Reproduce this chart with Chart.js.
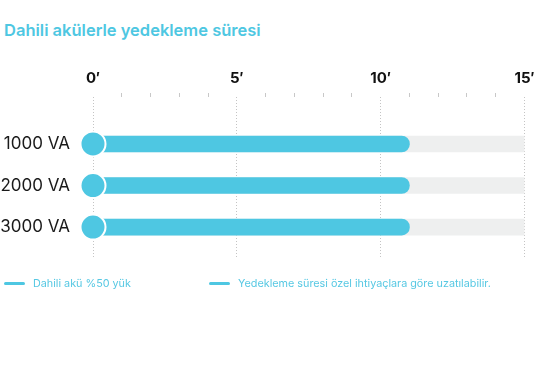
<!DOCTYPE html>
<html lang="tr">
<head>
<meta charset="utf-8">
<script src="https://cdn.jsdelivr.net/npm/chart.js@4"></script>
<style>
  body { margin: 0; background: #fff; font-family: Inter, sans-serif; }
  #wrap { position: relative; width: 539px; height: 382px; }
  #chart { position: absolute; left: 0; top: 0; }
  #title { position: absolute; left: 4px; top: 19px; font-size: 16.5px; font-weight: 600; color: #4ec7e2; line-height: 22px; }
  .legend { position: absolute; top: 276px; font-size: 10.8px; color: #56c8e3; line-height: 16px; white-space: nowrap; }
  .legend span { display: inline-block; width: 21px; height: 3px; background: #4ec7e2; border-radius: 2px; vertical-align: middle; margin-right: 8px; position: relative; top: -1px; }
</style>
</head>
<body>
<div id="wrap">
  <div id="title">Dahili akülerle yedekleme süresi</div>
  <canvas id="chart" width="539" height="382"></canvas>
  <div class="legend" style="left:4px"><span></span>Dahili akü %50 yük</div>
  <div class="legend" style="left:209px"><span></span>Yedekleme süresi özel ihtiyaçlara göre uzatılabilir.</div>
</div>
<script>
// Data
const categories = ['1000 VA', '2000 VA', '3000 VA'];
const backupMinutes = [11, 11, 11];
const scaleMax = [15, 15, 15];
const startPoints = [0, 0, 0];
const tickLabels = ['0′', '5′', '10′', '15′'];

const blue = '#4ec7e2';

function toPoints(values) {
  return values.map((v, i) => ({ x: v, y: i }));
}

new Chart(document.getElementById('chart'), {
  type: 'bar',
  data: {
    datasets: [
      {
        type: 'scatter',
        data: toPoints(startPoints),
        pointRadius: 12.5,
        pointHoverRadius: 12.5,
        backgroundColor: blue,
        borderColor: '#fff',
        borderWidth: 2,
        clip: false,
        order: 0
      },
      {
        label: 'Dahili akü %50 yük',
        data: toPoints(backupMinutes),
        backgroundColor: blue,
        borderRadius: 8,
        borderSkipped: false,
        barThickness: 16,
        grouped: false,
        order: 1
      },
      {
        data: toPoints(scaleMax),
        backgroundColor: '#eeefef',
        barThickness: 16,
        grouped: false,
        order: 2
      }
    ]
  },
  options: {
    indexAxis: 'y',
    responsive: false,
    animation: false,
    layout: { padding: { top: 0, left: 0, right: 0, bottom: 125 } },
    plugins: { legend: { display: false }, tooltip: { enabled: false } },
    scales: {
      x: {
        type: 'linear',
        position: 'top',
        min: 0,
        max: 15,
        afterFit: (scale) => {
          scale.height = 97;
          scale.paddingLeft = 0;
          scale.paddingRight = 10;
        },
        ticks: {
          stepSize: 1,
          autoSkip: false,
          maxRotation: 0,
          padding: 6,
          color: '#111',
          font: { family: 'Inter', size: 15, weight: '700' },
          callback: (v) => (v % 5 === 0 ? tickLabels[v / 5] : '')
        },
        grid: {
          color: (ctx) => (ctx.tick && ctx.tick.value % 5 === 0 ? '#c4c4c4' : 'transparent'),
          tickColor: (ctx) => (ctx.tick && ctx.tick.value % 5 === 0 ? 'transparent' : '#c8c8c8'),
          tickLength: 4,
          lineWidth: 1
        },
        border: { display: false, dash: [1, 2] }
      },
      y: {
        type: 'linear',
        reverse: true,
        offset: false,
        min: -1.13,
        max: 2.72,
        afterFit: (scale) => { scale.width = 93; },
        afterBuildTicks: (scale) => { scale.ticks = categories.map((c, i) => ({ value: i })); },
        ticks: {
          padding: 15,
          color: '#1a1a1a',
          font: { family: 'Inter', size: 17 },
          callback: (v) => categories[v]
        },
        grid: { display: false },
        border: { display: false }
      }
    }
  }
});
</script>
</body>
</html>
